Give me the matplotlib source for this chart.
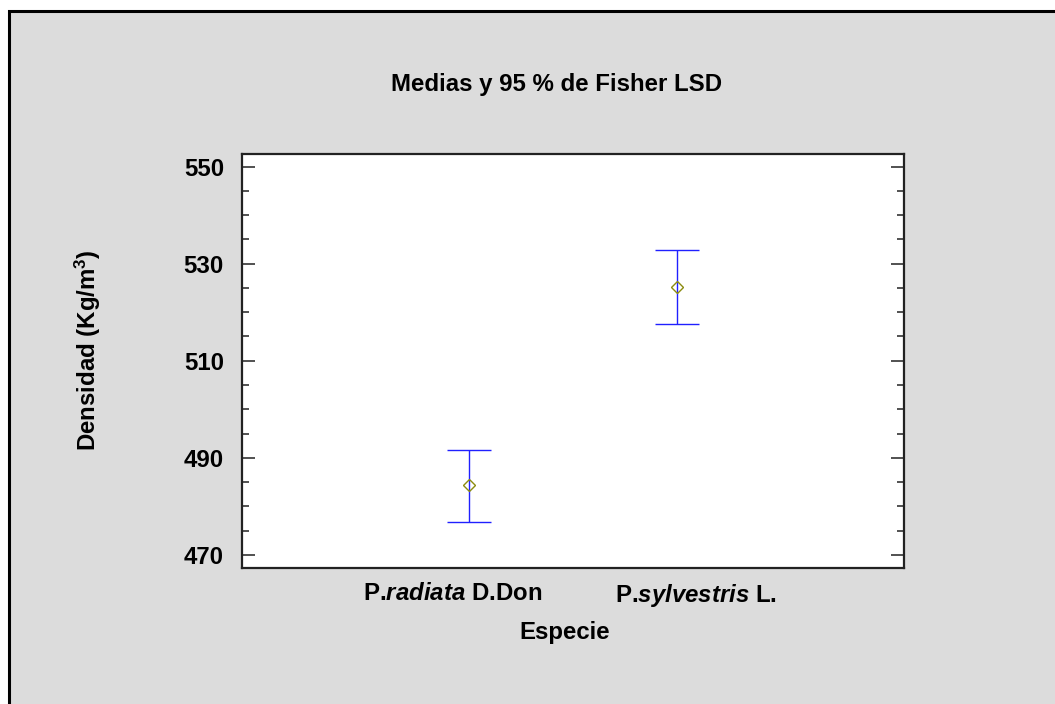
import matplotlib
matplotlib.use("Agg")
import matplotlib.pyplot as plt
from matplotlib.patches import Rectangle
from matplotlib.ticker import MultipleLocator
import matplotlib.transforms as mtransforms

species = [r"P.$\mathit{radiata}$ D.Don", r"P.$\mathit{sylvestris}$ L."]
means = [484.3, 525.2]
lower = [476.8, 517.6]
upper = [491.7, 532.8]

plt.rcParams['font.family'] = ['Liberation Sans', 'DejaVu Sans']
plt.rcParams['font.weight'] = 'bold'
plt.rcParams['mathtext.fontset'] = 'custom'
plt.rcParams['mathtext.rm'] = 'Liberation Sans:bold'
plt.rcParams['mathtext.it'] = 'Liberation Sans:bold:italic'
plt.rcParams['mathtext.bf'] = 'Liberation Sans:bold'

fs = 17.3

fig = plt.figure(figsize=(10.55, 7.04), dpi=100, facecolor='white')

# grey panel with black frame on top/left
bg = Rectangle((9 / 1055, -0.05), 1.2, 1 - 10.5 / 704 + 0.05, transform=fig.transFigure,
               facecolor='#dcdcdc', edgecolor='black', linewidth=2.2, zorder=-10)
fig.patches.append(bg)

ax = fig.add_axes([242 / 1055, 1 - 568 / 704, (904 - 242) / 1055, (568 - 153.5) / 704])
ax.set_facecolor('white')

x = [1, 2]
yerr = [[m - l for m, l in zip(means, lower)], [u - m for m, u in zip(means, upper)]]
ax.errorbar(x, means, yerr=yerr, fmt='none', ecolor='#2020ff', elinewidth=1.0,
            capsize=15.5, capthick=1.0, zorder=2)
ax.plot(x, means, linestyle='none', marker='D', markersize=6.5, markerfacecolor='none',
        markeredgecolor='#8c8c10', markeredgewidth=1.0, zorder=3)

ax.set_xlim(-0.094, 3.094)
ax.set_ylim(467.3, 552.7)
ax.yaxis.set_major_locator(MultipleLocator(20))
ax.yaxis.set_minor_locator(MultipleLocator(5))
ax.set_yticks([470, 490, 510, 530, 550])

ax.tick_params(axis='y', which='major', direction='in', length=9.5, width=1.1,
               left=True, right=True, labelsize=fs, pad=13, color='#222222')
ax.tick_params(axis='y', which='minor', direction='in', length=5, width=1.1,
               left=True, right=True, color='#222222')
ax.set_xticks(x)
ax.set_xticklabels(species)
ax.tick_params(axis='x', length=0, labelsize=fs, pad=10)

# nudge category labels to where they sit in the original
offsets = [-17, 19]
for lab, dx in zip(ax.get_xticklabels(), offsets):
    lab.set_transform(lab.get_transform() + mtransforms.ScaledTranslation(dx / 100, 0, fig.dpi_scale_trans))

for s in ax.spines.values():
    s.set_linewidth(1.6)
    s.set_color('#222222')

fig.text(557 / 1055, 1 - 84 / 704, "Medias y 95 % de Fisher LSD", ha='center', va='center',
         fontsize=fs, fontweight='bold')
fig.text(565 / 1055, 1 - 633 / 704, "Especie", ha='center', va='center',
         fontsize=fs, fontweight='bold')
fig.text(88 / 1055, 1 - 350 / 704, r"Densidad (Kg/m$^{3}$)", ha='center', va='center',
         rotation=90, fontsize=fs, fontweight='bold')

fig.savefig("out.png", dpi=100, facecolor=fig.get_facecolor())
